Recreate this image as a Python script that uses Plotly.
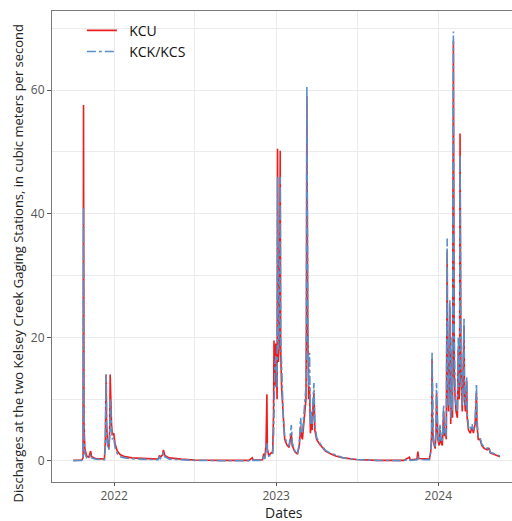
import plotly.graph_objects as go

# Daily-discharge readings (m^3/s) at the Kelsey Creek gaging stations
dates = [
    "2021-10-01", "2021-10-20", "2021-10-23", "2021-10-24", "2021-10-25", "2021-10-27",
    "2021-10-31", "2021-11-05", "2021-11-09", "2021-11-11", "2021-11-20", "2021-12-01",
    "2021-12-10", "2021-12-12", "2021-12-13", "2021-12-14", "2021-12-15", "2021-12-17",
    "2021-12-20", "2021-12-22", "2021-12-23", "2021-12-24", "2021-12-26", "2021-12-28",
    "2021-12-31", "2022-01-03", "2022-01-08", "2022-01-15", "2022-01-25", "2022-02-10",
    "2022-03-01", "2022-03-20", "2022-04-10", "2022-04-13", "2022-04-15", "2022-04-20",
    "2022-04-22", "2022-04-25", "2022-05-05", "2022-06-01", "2022-07-01", "2022-09-01",
    "2022-11-01", "2022-11-08", "2022-11-10", "2022-12-01", "2022-12-04", "2022-12-06",
    "2022-12-09", "2022-12-11", "2022-12-12", "2022-12-15", "2022-12-24", "2022-12-26",
    "2022-12-27", "2022-12-28", "2022-12-29", "2022-12-31", "2023-01-01", "2023-01-02",
    "2023-01-03", "2023-01-04", "2023-01-06", "2023-01-08", "2023-01-10", "2023-01-11",
    "2023-01-13", "2023-01-15", "2023-01-17", "2023-01-20", "2023-01-25", "2023-01-30",
    "2023-02-04", "2023-02-06", "2023-02-12", "2023-02-18", "2023-02-22", "2023-02-25",
    "2023-02-27", "2023-03-01", "2023-03-04", "2023-03-07", "2023-03-09", "2023-03-10",
    "2023-03-11", "2023-03-13", "2023-03-15", "2023-03-17", "2023-03-19", "2023-03-21",
    "2023-03-23", "2023-03-25", "2023-03-27", "2023-03-29", "2023-04-02", "2023-04-08",
    "2023-04-14", "2023-04-22", "2023-05-02", "2023-05-15", "2023-06-01", "2023-07-01",
    "2023-08-15", "2023-10-15", "2023-10-28", "2023-10-30", "2023-11-14", "2023-11-16",
    "2023-11-18", "2023-12-01", "2023-12-12", "2023-12-15", "2023-12-17", "2023-12-18",
    "2023-12-19", "2023-12-21", "2023-12-25", "2023-12-27", "2023-12-28", "2023-12-31",
    "2024-01-03", "2024-01-05", "2024-01-07", "2024-01-10", "2024-01-13", "2024-01-15",
    "2024-01-17", "2024-01-19", "2024-01-21", "2024-01-22", "2024-01-24", "2024-01-27",
    "2024-01-29", "2024-02-01", "2024-02-02", "2024-02-04", "2024-02-05", "2024-02-06",
    "2024-02-08", "2024-02-10", "2024-02-13", "2024-02-15", "2024-02-17", "2024-02-18",
    "2024-02-19", "2024-02-21", "2024-02-24", "2024-02-28", "2024-02-29", "2024-03-02",
    "2024-03-05", "2024-03-06", "2024-03-09", "2024-03-13", "2024-03-17", "2024-03-20",
    "2024-03-24", "2024-03-27", "2024-03-28", "2024-03-31", "2024-04-04", "2024-04-08",
    "2024-04-14", "2024-04-20", "2024-04-24", "2024-04-27", "2024-05-05", "2024-05-12",
    "2024-05-19",
]

kcu = [
    0.1, 0.15, 0.5, 57.6, 6.0, 2.0,
    0.8, 0.6, 1.6, 0.7, 0.4, 0.3,
    0.3, 3.0, 6.5, 14.0, 6.0, 3.0,
    2.0, 5.0, 14.0, 9.0, 6.0, 4.2,
    4.5, 2.8, 1.6, 1.0, 0.7, 0.5,
    0.4, 0.3, 0.3, 0.9, 0.6, 1.0,
    1.8, 0.9, 0.5, 0.3, 0.15, 0.1,
    0.1, 0.5, 0.15, 0.2, 1.2, 0.4,
    2.5, 10.8, 2.0, 0.9, 1.5, 8.0,
    19.5, 12.0, 17.0, 19.0, 12.0, 14.0,
    10.0, 50.5, 16.0, 20.0, 50.2, 18.0,
    12.0, 9.0, 6.0, 3.5, 2.6, 2.2,
    4.5, 2.5, 1.5, 1.1, 2.5, 5.6,
    4.0, 3.5, 6.0, 8.0, 10.0, 22.0,
    59.0, 22.0, 10.0, 12.0, 4.5, 7.0,
    5.0, 9.0, 11.0, 5.0, 3.5, 2.8,
    2.2, 1.6, 1.2, 0.8, 0.5, 0.25,
    0.1, 0.1, 0.6, 0.15, 0.3, 1.5,
    0.4, 0.3, 0.3, 1.5, 4.0, 16.5,
    6.0, 3.0, 2.0, 5.0, 11.0, 3.5,
    2.5, 5.0, 3.0, 2.5, 8.0, 4.0,
    5.0, 3.5, 34.0, 12.0, 8.0, 25.0,
    6.0, 18.0, 7.0, 68.0, 25.0, 14.0,
    10.0, 8.0, 7.0, 18.0, 10.0, 12.0,
    53.0, 15.0, 8.0, 22.0, 10.0, 8.0,
    13.0, 7.0, 5.0, 4.5, 5.5, 4.5,
    6.0, 11.0, 6.0, 3.5, 3.5, 2.5,
    2.0, 1.8, 2.1, 1.3, 1.1, 0.9,
    0.7,
]

kck = [
    0.05, 0.1, 0.4, 41.0, 4.0, 1.2,
    0.5, 0.4, 1.0, 0.5, 0.3, 0.2,
    0.2, 2.0, 6.0, 14.0, 5.0, 2.5,
    1.8, 4.0, 10.0, 9.5, 5.0, 3.5,
    3.8, 2.2, 1.2, 0.7, 0.5, 0.35,
    0.3, 0.2, 0.2, 0.7, 0.4, 0.8,
    1.4, 0.7, 0.3, 0.2, 0.1, 0.05,
    0.05, 0.3, 0.1, 0.1, 0.8, 0.3,
    1.5, 3.0, 1.5, 0.8, 1.0, 4.0,
    9.0, 11.0, 15.0, 17.0, 14.0, 16.0,
    12.0, 46.0, 18.0, 22.0, 46.0, 20.0,
    14.0, 10.0, 7.0, 4.0, 2.9, 2.4,
    5.8, 3.0, 1.6, 1.1, 3.0, 7.0,
    4.5, 4.5, 7.0, 10.0, 12.0, 24.0,
    60.5, 24.0, 12.0, 17.5, 6.0, 8.0,
    6.0, 10.0, 12.6, 6.0, 3.8, 3.0,
    2.4, 1.7, 1.3, 0.9, 0.5, 0.25,
    0.1, 0.05, 0.3, 0.1, 0.2, 0.8,
    0.3, 0.2, 0.2, 1.5, 4.5, 17.5,
    7.0, 3.5, 2.2, 5.5, 12.6, 4.0,
    3.0, 6.0, 3.5, 3.0, 9.0, 4.5,
    6.0, 4.0, 36.0, 14.0, 9.0, 26.0,
    7.0, 20.0, 8.0, 69.5, 26.0, 15.0,
    11.0, 9.0, 8.0, 20.0, 12.0, 14.0,
    49.5, 17.0, 9.0, 23.0, 11.0, 9.0,
    13.5, 8.0, 5.5, 5.0, 6.0, 5.0,
    6.5, 12.5, 7.0, 4.0, 3.8, 2.7,
    2.2, 2.0, 2.3, 1.4, 1.2, 1.0,
    0.8,
]

x_range = ["2021-08-14", "2024-06-15"]
x_tickvals = ["2022-01-01", "2023-01-01", "2024-01-01"]
x_ticktext = ["2022", "2023", "2024"]
y_range = [-3.4, 72.8]
y_ticks = [0, 20, 40, 60]

x_title = "Dates"
y_title = "Discharges at the two Kelsey Creek Gaging Stations, in cubic meters per second"

GRID = "#ebebeb"
FONT = "Open Sans"

fig = go.Figure()
fig.add_trace(go.Scatter(
    x=dates, y=kcu, mode="lines", name="  KCU",
    line=dict(color="#ee1c1c", width=1.6),
))
fig.add_trace(go.Scatter(
    x=dates, y=kck, mode="lines", name="  KCK/KCS",
    line=dict(color="#5b8fc8", width=1.6, dash="dashdot"),
))

fig.update_layout(
    width=512, height=521,
    margin=dict(l=52, r=0, t=11, b=39),
    paper_bgcolor="white", plot_bgcolor="white",
    font=dict(family=FONT, color="#222222"),
    showlegend=True,
    legend=dict(
        x=0.065, y=0.992, xanchor="left", yanchor="top",
        bgcolor="rgba(0,0,0,0)", font=dict(size=14, color="#111111"),
        tracegroupgap=0,
    ),
    annotations=[
        dict(text=y_title, textangle=-90, showarrow=False,
             xref="paper", yref="paper", x=-0.075, y=0.465,
             xanchor="center", yanchor="middle",
             font=dict(size=13, color="#222222")),
        dict(text=x_title, showarrow=False,
             xref="paper", yref="paper", x=0.505, y=-0.0637,
             xanchor="center", yanchor="middle",
             font=dict(size=14, color="#222222")),
    ],
)

fig.update_xaxes(
    type="date", range=x_range,
    tickvals=x_tickvals, ticktext=x_ticktext,
    ticks="outside", ticklen=3, tickcolor="#555555",
    tickfont=dict(size=12, color="#555555"),
    showgrid=True, gridcolor=GRID, gridwidth=1,
    minor=dict(tick0="2022-07-02", dtick="M12", showgrid=True,
               gridcolor=GRID, gridwidth=1, ticks=""),
    showline=True, linecolor="#7a7a7a", linewidth=1, mirror=True,
    zeroline=False,
)
fig.update_yaxes(
    range=y_range, tickvals=y_ticks,
    ticks="outside", ticklen=4, tickcolor="#555555",
    tickfont=dict(size=12, color="#555555"),
    showgrid=True, gridcolor=GRID, gridwidth=1,
    minor=dict(tick0=10, dtick=20, showgrid=True,
               gridcolor=GRID, gridwidth=1, ticks=""),
    showline=True, linecolor="#7a7a7a", linewidth=1,
    zeroline=False,
)

fig.write_html("out.html")
